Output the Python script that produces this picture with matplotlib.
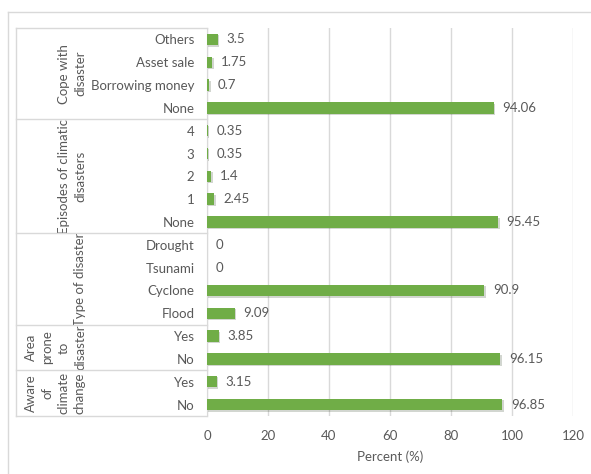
import matplotlib.pyplot as plt
import matplotlib.patheffects as pe
from matplotlib.transforms import blended_transform_factory, Bbox, TransformedBbox
from matplotlib.lines import Line2D

# datos (de arriba hacia abajo)
groups = ['Cope with\ndisaster', 'Episodes of climatic\ndisasters', 'Type of disaster',
          'Area\nprone\nto\ndisaster', 'Aware\nof\nclimate\nchange']
group_items = [
    ['Others', 'Asset sale', 'Borrowing money', 'None'],
    ['4', '3', '2', '1', 'None'],
    ['Drought', 'Tsunami', 'Cyclone', 'Flood'],
    ['Yes', 'No'],
    ['Yes', 'No'],
]
group_values = [
    [3.5, 1.75, 0.7, 94.06],
    [0.35, 0.35, 1.4, 2.45, 95.45],
    [0, 0, 90.9, 9.09],
    [3.85, 96.15],
    [3.15, 96.85],
]
value_labels = [
    ['3.5', '1.75', '0.7', '94.06'],
    ['0.35', '0.35', '1.4', '2.45', '95.45'],
    ['0', '0', '90.9', '9.09'],
    ['3.85', '96.15'],
    ['3.15', '96.85'],
]
x_ticks = [0, 20, 40, 60, 80, 100, 120]

plt.rcParams['font.family'] = ['Lato', 'DejaVu Sans']
gray = '#595959'
grid = '#D9D9D9'
W, H = 591, 474
fs = 9.5

fig = plt.figure(figsize=(W / 100, H / 100), dpi=100)
ax = fig.add_axes([207 / W, 1 - 416 / H, (573 - 207) / W, (416 - 28) / H])

labels = [l for g in group_items for l in g]
values = [v for g in group_values for v in g]
vtexts = [t for g in value_labels for t in g]
n = len(labels)
ypos = [n - 1 - i for i in range(n)]

bars = ax.barh(ypos, values, height=0.5, color='#70AD47', zorder=3)
for b in bars:
    b.set_path_effects([pe.SimplePatchShadow(offset=(1, -1), alpha=0.2), pe.Normal()])
for y, v, t in zip(ypos, values, vtexts):
    ax.text(v + 2.8, y, t, va='center', ha='left', fontsize=fs, color=gray)

ax.set_xlim(0, 120)
ax.set_ylim(-0.5, n - 0.5)
ax.set_xticks(x_ticks)
ax.set_yticks(ypos)
ax.set_yticklabels(labels)
ax.tick_params(axis='y', length=0, pad=9, labelsize=fs, labelcolor=gray)
ax.tick_params(axis='x', length=0, pad=10, labelsize=fs, labelcolor=gray)
ax.grid(axis='x', color=grid, lw=1, zorder=0)
for s in ['top', 'right', 'bottom']:
    ax.spines[s].set_visible(False)
ax.spines['left'].set_color(grid)
ax.set_xlabel('Percent (%)', fontsize=fs, color=gray, labelpad=6)

# tabla de categorias agrupadas
tr = blended_transform_factory(fig.transFigure, ax.transData)
x0, x1 = 16 / W, 207 / W
edge = n - 0.5
fig.add_artist(Line2D([x0, x1], [edge, edge], transform=tr, color=grid, lw=1))
for g, items in zip(groups, group_items):
    k = len(items)
    mid = edge - k / 2
    t = ax.text(86 / W, mid, g, transform=tr, rotation=90, ha='right', va='center',
                multialignment='center', fontsize=fs, color=gray, linespacing=1.45)
    t.set_clip_box(TransformedBbox(Bbox([[x0, edge - k], [x1, edge]]), tr))
    t.set_clip_on(True)
    edge -= k
    fig.add_artist(Line2D([x0, x1], [edge, edge], transform=tr, color=grid, lw=1))
fig.add_artist(Line2D([x0, x0], [1 - 28 / H, 1 - 416 / H], color=grid, lw=1))

# marco exterior
fig.add_artist(Line2D([8 / W, 8 / W], [0, 1 - 12 / H], color=grid, lw=1))
fig.add_artist(Line2D([8 / W, 1], [1 - 12 / H, 1 - 12 / H], color=grid, lw=1))

fig.savefig('out.png', dpi=100)
